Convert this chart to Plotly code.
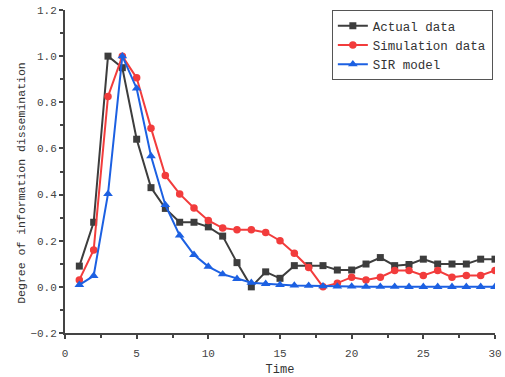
import plotly.graph_objects as go

time = list(range(1, 31))
actual = [0.09, 0.28, 1.0, 0.95, 0.64, 0.43, 0.34, 0.28, 0.28, 0.26,
          0.22, 0.105, 0.0, 0.065, 0.037, 0.092, 0.092, 0.092, 0.073, 0.073,
          0.099, 0.127, 0.092, 0.097, 0.12, 0.099, 0.099, 0.099, 0.12, 0.12]
simulation = [0.03, 0.16, 0.825, 1.0, 0.906, 0.688, 0.483, 0.403, 0.342, 0.288,
              0.255, 0.247, 0.247, 0.236, 0.2, 0.146, 0.084, 0.0, 0.016, 0.042,
              0.03, 0.042, 0.071, 0.071, 0.049, 0.071, 0.042, 0.049, 0.049, 0.071]
sir = [0.009, 0.048, 0.403, 1.0, 0.86, 0.567, 0.355, 0.223, 0.139, 0.088,
       0.055, 0.035, 0.018, 0.013, 0.009, 0.006, 0.005, 0.003, 0.002, 0.002,
       0.001, 0.001, 0.001, 0.0, 0.0, 0.0, 0.0, 0.0, 0.0, 0.0]

names = ["Actual data", "Simulation data", "SIR model"]
colors = ["#3d3d3d", "#f23c3c", "#1c60e2"]
symbols = ["square", "circle", "triangle-up"]
sizes = [7, 7.5, 8.5]

FONT = "Liberation Mono"

fig = go.Figure()
for ys, n, c, s, sz in zip([actual, simulation, sir], names, colors, symbols, sizes):
    fig.add_trace(go.Scatter(
        x=time, y=ys, name=n, mode="lines+markers",
        line=dict(color=c, width=2),
        marker=dict(color=c, symbol=s, size=sz, line=dict(width=0)),
    ))

fig.update_layout(
    width=505, height=377,
    margin=dict(l=65, r=10, t=10, b=44),
    paper_bgcolor="white", plot_bgcolor="white",
    font=dict(family=FONT, color="#333333"),
    showlegend=True,
    legend=dict(
        x=0.995, y=1.0, xanchor="right", yanchor="top",
        bordercolor="#555555", borderwidth=1, bgcolor="white",
        font=dict(family=FONT, size=12.5, color="#333333"),
        itemwidth=30, tracegroupgap=0,
    ),
    xaxis=dict(
        range=[0, 30], tickvals=[0, 5, 10, 15, 20, 25, 30],
        automargin=False,
        showgrid=False, zeroline=False,
        showline=True, linecolor="#444444", linewidth=2,
        ticks="outside", ticklen=4, tickwidth=1.5, tickcolor="#444444",
        minor=dict(dtick=2.5, tick0=0, ticks="outside", ticklen=3, tickwidth=1.5, tickcolor="#444444"),
        tickfont=dict(family=FONT, size=11, color="#444444"),
        ticklabelstandoff=5,
        title=dict(text="Time", font=dict(family=FONT, size=12, color="#333333"), standoff=6),
    ),
    yaxis=dict(
        range=[-0.2, 1.2], tickvals=[-0.2, 0, 0.2, 0.4, 0.6, 0.8, 1.0, 1.2],
        tickformat=".1f",
        automargin=False,
        showgrid=False, zeroline=False,
        showline=True, linecolor="#444444", linewidth=2,
        ticks="outside", ticklen=4, tickwidth=1.5, tickcolor="#444444",
        minor=dict(dtick=0.1, tick0=0, ticks="outside", ticklen=3, tickwidth=1.5, tickcolor="#444444"),
        tickfont=dict(family=FONT, size=11, color="#444444"),
    ),
    annotations=[dict(
        text="Degree of information dissemination",
        xref="paper", yref="paper", x=0, y=0.465,
        xanchor="center", yanchor="middle", xshift=-43,
        textangle=-90, showarrow=False,
        font=dict(family=FONT, size=11.5, color="#333333"),
    )],
)

fig.write_html("out.html")
